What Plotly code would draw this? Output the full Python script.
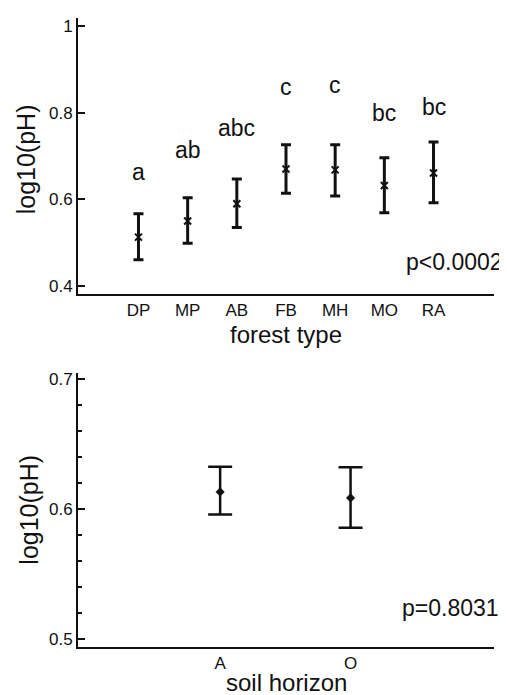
import plotly.graph_objects as go

# ---- data ----
forest_types = ["DP", "MP", "AB", "FB", "MH", "MO", "RA"]
forest_mean = [0.513, 0.550, 0.590, 0.670, 0.668, 0.632, 0.661]
forest_upper = [0.567, 0.604, 0.647, 0.726, 0.726, 0.696, 0.732]
forest_lower = [0.461, 0.499, 0.535, 0.614, 0.608, 0.569, 0.592]
forest_letters = ["a", "ab", "abc", "c", "c", "bc", "bc"]
forest_letter_y = [0.662, 0.713, 0.765, 0.859, 0.863, 0.798, 0.813]

horizons = ["A", "O"]
horizon_mean = [0.6132, 0.6086]
horizon_upper = [0.6326, 0.6321]
horizon_lower = [0.5959, 0.5857]

p_forest = "p<0.0002"
p_horizon = "p=0.8031"

FONT = "Arial, Liberation Sans, sans-serif"
INK = "#111111"

# page body has an 8px margin; figure sized to fit inside the 507x695 window
OFF = 8
W, H = 507 - OFF, 695 - OFF
ML, MR, MT, MB = 78 - OFF, 13, 15 - OFF, 48
PW = W - ML - MR          # plot width in px
PH = H - MT - MB          # plot height in px
Y0 = 647                  # screen y of bottom axis line


def py(screen_y):
    return (Y0 - screen_y) / PH


def px(screen_x):
    return (screen_x - 78) / PW


fig = go.Figure()

fig.add_trace(go.Scatter(
    x=forest_types, y=forest_mean, mode="markers",
    marker=dict(symbol="x-thin-open", size=7, color=INK, line=dict(width=2, color=INK)),
    error_y=dict(type="data", symmetric=False,
                 array=[u - m for u, m in zip(forest_upper, forest_mean)],
                 arrayminus=[m - l for m, l in zip(forest_mean, forest_lower)],
                 color=INK, thickness=3, width=5),
    xaxis="x", yaxis="y", showlegend=False))

fig.add_trace(go.Scatter(
    x=horizons, y=horizon_mean, mode="markers",
    marker=dict(symbol="diamond", size=7, color=INK),
    error_y=dict(type="data", symmetric=False,
                 array=[u - m for u, m in zip(horizon_upper, horizon_mean)],
                 arrayminus=[m - l for m, l in zip(horizon_mean, horizon_lower)],
                 color=INK, thickness=2.5, width=12),
    xaxis="x2", yaxis="y2", showlegend=False))

annotations = []
for cat, lab, ly in zip(forest_types, forest_letters, forest_letter_y):
    annotations.append(dict(x=cat, y=ly, xref="x", yref="y", text=lab, showarrow=False,
                            font=dict(family=FONT, size=23, color=INK),
                            xanchor="center", yanchor="middle"))

annotations += [
    dict(x=px(505), y=py(260), xref="paper", yref="paper", text=p_forest,
         showarrow=False, xanchor="right", yanchor="middle",
         font=dict(family=FONT, size=23, color=INK)),
    dict(x=px(501), y=py(608), xref="paper", yref="paper", text=p_horizon,
         showarrow=False, xanchor="right", yanchor="middle",
         font=dict(family=FONT, size=23, color=INK)),
    dict(x=0.5, y=py(333), xref="paper", yref="paper", text="forest type",
         showarrow=False, xanchor="center", yanchor="middle",
         font=dict(family=FONT, size=24, color=INK)),
    dict(x=0.5, y=py(683), xref="paper", yref="paper", text="soil horizon",
         showarrow=False, xanchor="center", yanchor="middle",
         font=dict(family=FONT, size=24, color=INK)),
    dict(x=px(26), y=py(157), xref="paper", yref="paper", text="log10(pH)",
         showarrow=False, xanchor="center", yanchor="middle", textangle=-90,
         font=dict(family=FONT, size=25, color=INK)),
    dict(x=px(29), y=py(509), xref="paper", yref="paper", text="log10(pH)",
         showarrow=False, xanchor="center", yanchor="middle", textangle=-90,
         font=dict(family=FONT, size=25, color=INK)),
]

axis_common = dict(showline=True, linecolor=INK, linewidth=2, showgrid=False, zeroline=False,
                   tickfont=dict(family=FONT, size=17, color=INK))

fig.update_layout(
    width=W, height=H,
    margin=dict(l=ML, r=MR, t=MT, b=MB),
    paper_bgcolor="white", plot_bgcolor="white",
    showlegend=False,
    xaxis=dict(domain=[0, 1], anchor="y", type="category", range=[-1.23, 7.23],
               ticks="", **axis_common),
    yaxis=dict(domain=[py(292.3), 1], anchor="x", range=[0.382, 1.018],
               tickvals=[0.4, 0.6, 0.8, 1.0], ticktext=["0.4", "0.6", "0.8", "1"],
               ticks="inside", ticklen=7, tickwidth=1.5, tickcolor=INK, **axis_common),
    xaxis2=dict(domain=[0, 1], anchor="y2", type="category", range=[-1.09, 2.10],
                ticks="", **axis_common),
    yaxis2=dict(domain=[0, py(371.7)], anchor="x2", range=[0.494, 0.7046],
                tickvals=[0.5, 0.6, 0.7], ticktext=["0.5", "0.6", "0.7"],
                ticks="inside", ticklen=7, tickwidth=1.5, tickcolor=INK,
                minor=dict(tickvals=[0.52, 0.54, 0.56, 0.58, 0.62, 0.64, 0.66, 0.68],
                           ticks="inside", ticklen=4, tickwidth=1.5, tickcolor=INK),
                **axis_common),
    annotations=annotations,
)

fig.write_html("out.html")
